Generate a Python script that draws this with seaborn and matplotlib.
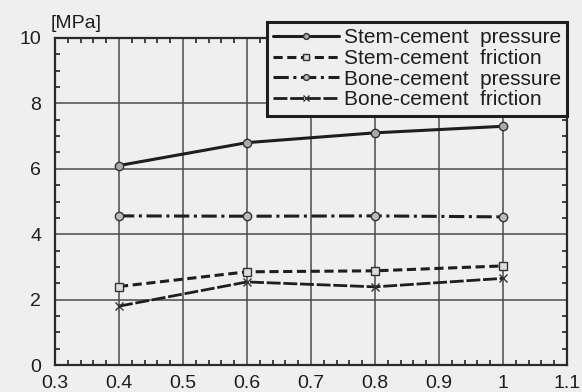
import matplotlib
matplotlib.use("Agg")
import matplotlib.pyplot as plt
import seaborn as sns
import pandas as pd
from matplotlib.ticker import MultipleLocator

x_vals = [0.4, 0.6, 0.8, 1.0]
stem_pressure = [6.1, 6.8, 7.1, 7.3]
stem_friction = [2.4, 2.85, 2.88, 3.03]
bone_pressure = [4.56, 4.55, 4.56, 4.53]
bone_friction = [1.8, 2.54, 2.39, 2.65]
labels = ["Stem-cement  pressure", "Stem-cement  friction",
          "Bone-cement  pressure", "Bone-cement  friction"]

sns.set_style("ticks")
plt.rcParams['font.family'] = ['Liberation Sans', 'DejaVu Sans']

rows = []
for lab, ys in zip(labels, [stem_pressure, stem_friction, bone_pressure, bone_friction]):
    for xv, yv in zip(x_vals, ys):
        rows.append({"x": xv, "y": yv, "series": lab})
df = pd.DataFrame(rows)

bg = "#efefef"
ink = "#1e1e1e"
fig = plt.figure(figsize=(5.82, 3.92), dpi=100, facecolor=bg)
ax = fig.add_axes([55/582, 1-365/392, (567-55)/582, (365-38)/392])
ax.set_facecolor(bg)

styles = {
    labels[0]: dict(ls="-", marker="o", mfc="#aaaaaa", lw=2.2),
    labels[1]: dict(ls=(0, (3, 1.5)), marker="s", mfc="#dddddd", lw=2.2),
    labels[2]: dict(ls=(0, (5, 1.5, 1, 1.5)), marker="o", mfc="#bbbbbb", lw=2.2),
    labels[3]: dict(ls=(0, (5, 1)), marker="x", mfc=ink, lw=2.0),
}
for lab in labels:
    st = styles[lab]
    sub = df[df.series == lab]
    sns.lineplot(data=sub, x="x", y="y", ax=ax, color=ink, lw=st["lw"],
                 linestyle=st["ls"], marker=st["marker"], markersize=6,
                 markerfacecolor=st["mfc"], markeredgecolor="#333333",
                 markeredgewidth=1.0, label=lab)

ax.set_xlim(0.3, 1.1)
ax.set_ylim(0, 10)
ax.xaxis.set_minor_locator(MultipleLocator(0.02))
ax.yaxis.set_minor_locator(MultipleLocator(0.5))
ax.set_xticks([0.3, 0.4, 0.5, 0.6, 0.7, 0.8, 0.9, 1.0, 1.1])
ax.set_xticklabels(["0.3", "0.4", "0.5", "0.6", "0.7", "0.8", "0.9", "1", "1.1"])
ax.set_yticks([0, 2, 4, 6, 8, 10])
ax.set_yticklabels(["0", "2", "4", "6", "8", "10"])
ax.grid(True, which="major", color="#4a4a4a", lw=1.1)
ax.tick_params(which="both", direction="in", top=True, right=True, colors="#333333",
               labelsize=14, labelcolor=ink)
ax.tick_params(axis="y", which="major", length=0, pad=10)
ax.tick_params(axis="x", which="major", length=0, pad=7)
ax.tick_params(which="minor", length=3.5, width=1.3)
for s in ax.spines.values():
    s.set_color("#2a2a2a")
    s.set_linewidth(1.6)
ax.set_xlabel("")
ax.set_ylabel("")
fig.text(51/582, 1-23/392, "[MPa]", fontsize=14, color=ink, va="center", ha="left")

leg = ax.legend(loc="upper right", bbox_to_anchor=(1.0, 1 + 16/327), fontsize=15,
                frameon=True, fancybox=False, framealpha=1.0, edgecolor=ink,
                facecolor=bg, handlelength=3.2, handletextpad=0.2, labelspacing=0.08,
                borderpad=0.3, borderaxespad=0, markerscale=0.7)
leg.get_frame().set_linewidth(2.2)
for t in leg.get_texts():
    t.set_color(ink)

fig.savefig("out.png", dpi=100, facecolor=bg)
